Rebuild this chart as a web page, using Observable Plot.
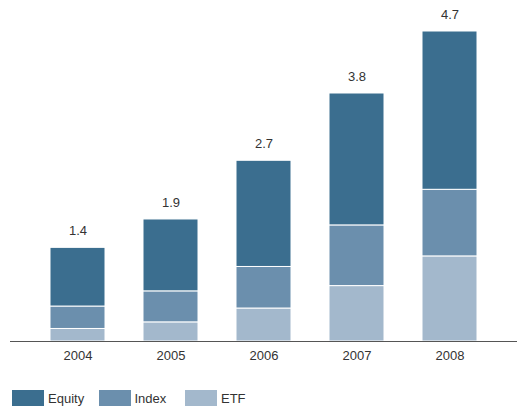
<!DOCTYPE html>
<html>
<head>
<meta charset="utf-8">
<script src="https://cdn.jsdelivr.net/npm/d3@7"></script>
<script src="https://cdn.jsdelivr.net/npm/@observablehq/plot@0.6"></script>
<style>
  body { margin: 0; background: #fff; font-family: "Liberation Sans", Arial, sans-serif; }
  #legend { display: flex; margin-top: 15px; padding-left: 12px; font-size: 13px; color: #333; }
  .item { display: flex; align-items: center; width: 86.5px; }
  .sw { width: 32px; height: 16px; margin-right: 4px; }
</style>
</head>
<body>
<div id="chart"></div>
<div id="legend"></div>
<script>
const years = ["2004", "2005", "2006", "2007", "2008"];
const etf = [0.19, 0.29, 0.50, 0.84, 1.29];
const index = [0.34, 0.47, 0.63, 0.92, 1.01];
const equity = [0.89, 1.09, 1.61, 2.00, 2.40];
const totals = [1.4, 1.9, 2.7, 3.8, 4.7];
const seriesNames = ["Equity", "Index", "ETF"];
const seriesColors = ["#3b6e8f", "#6b8fad", "#a3b8cc"];

const rows = [];
years.forEach((y, i) => {
  rows.push({year: y, series: "ETF", value: etf[i]});
  rows.push({year: y, series: "Index", value: index[i]});
  rows.push({year: y, series: "Equity", value: equity[i]});
});
const tops = years.map((y, i) => ({year: y, top: etf[i] + index[i] + equity[i], label: totals[i].toFixed(1)}));

const plot = Plot.plot({
  width: 517,
  height: 375,
  marginLeft: 10,
  marginRight: 0,
  marginTop: 31,
  marginBottom: 34,
  style: {fontFamily: "Liberation Sans, Arial, sans-serif", fontSize: "13px", color: "#333"},
  x: {domain: years, paddingInner: 0.41, paddingOuter: 0.415, label: null, tickSize: 0, tickPadding: 9},
  y: {domain: [0, 4.7], axis: null},
  color: {domain: seriesNames, range: seriesColors},
  marks: [
    Plot.barY(rows, Plot.stackY({order: ["ETF", "Index", "Equity"]}, {x: "year", y: "value", fill: "series", stroke: "white", strokeWidth: 1})),
    Plot.ruleY([0], {stroke: "#555", strokeWidth: 1.2}),
    Plot.text(tops, {x: "year", y: "top", text: "label", dy: -17, fill: "#333", fontSize: 13})
  ]
});
document.getElementById("chart").appendChild(plot);

const legend = document.getElementById("legend");
seriesNames.forEach((name, i) => {
  const item = document.createElement("div");
  item.className = "item";
  const sw = document.createElement("div");
  sw.className = "sw";
  sw.style.background = seriesColors[i];
  const t = document.createElement("span");
  t.textContent = name;
  item.appendChild(sw);
  item.appendChild(t);
  legend.appendChild(item);
});
</script>
</body>
</html>
